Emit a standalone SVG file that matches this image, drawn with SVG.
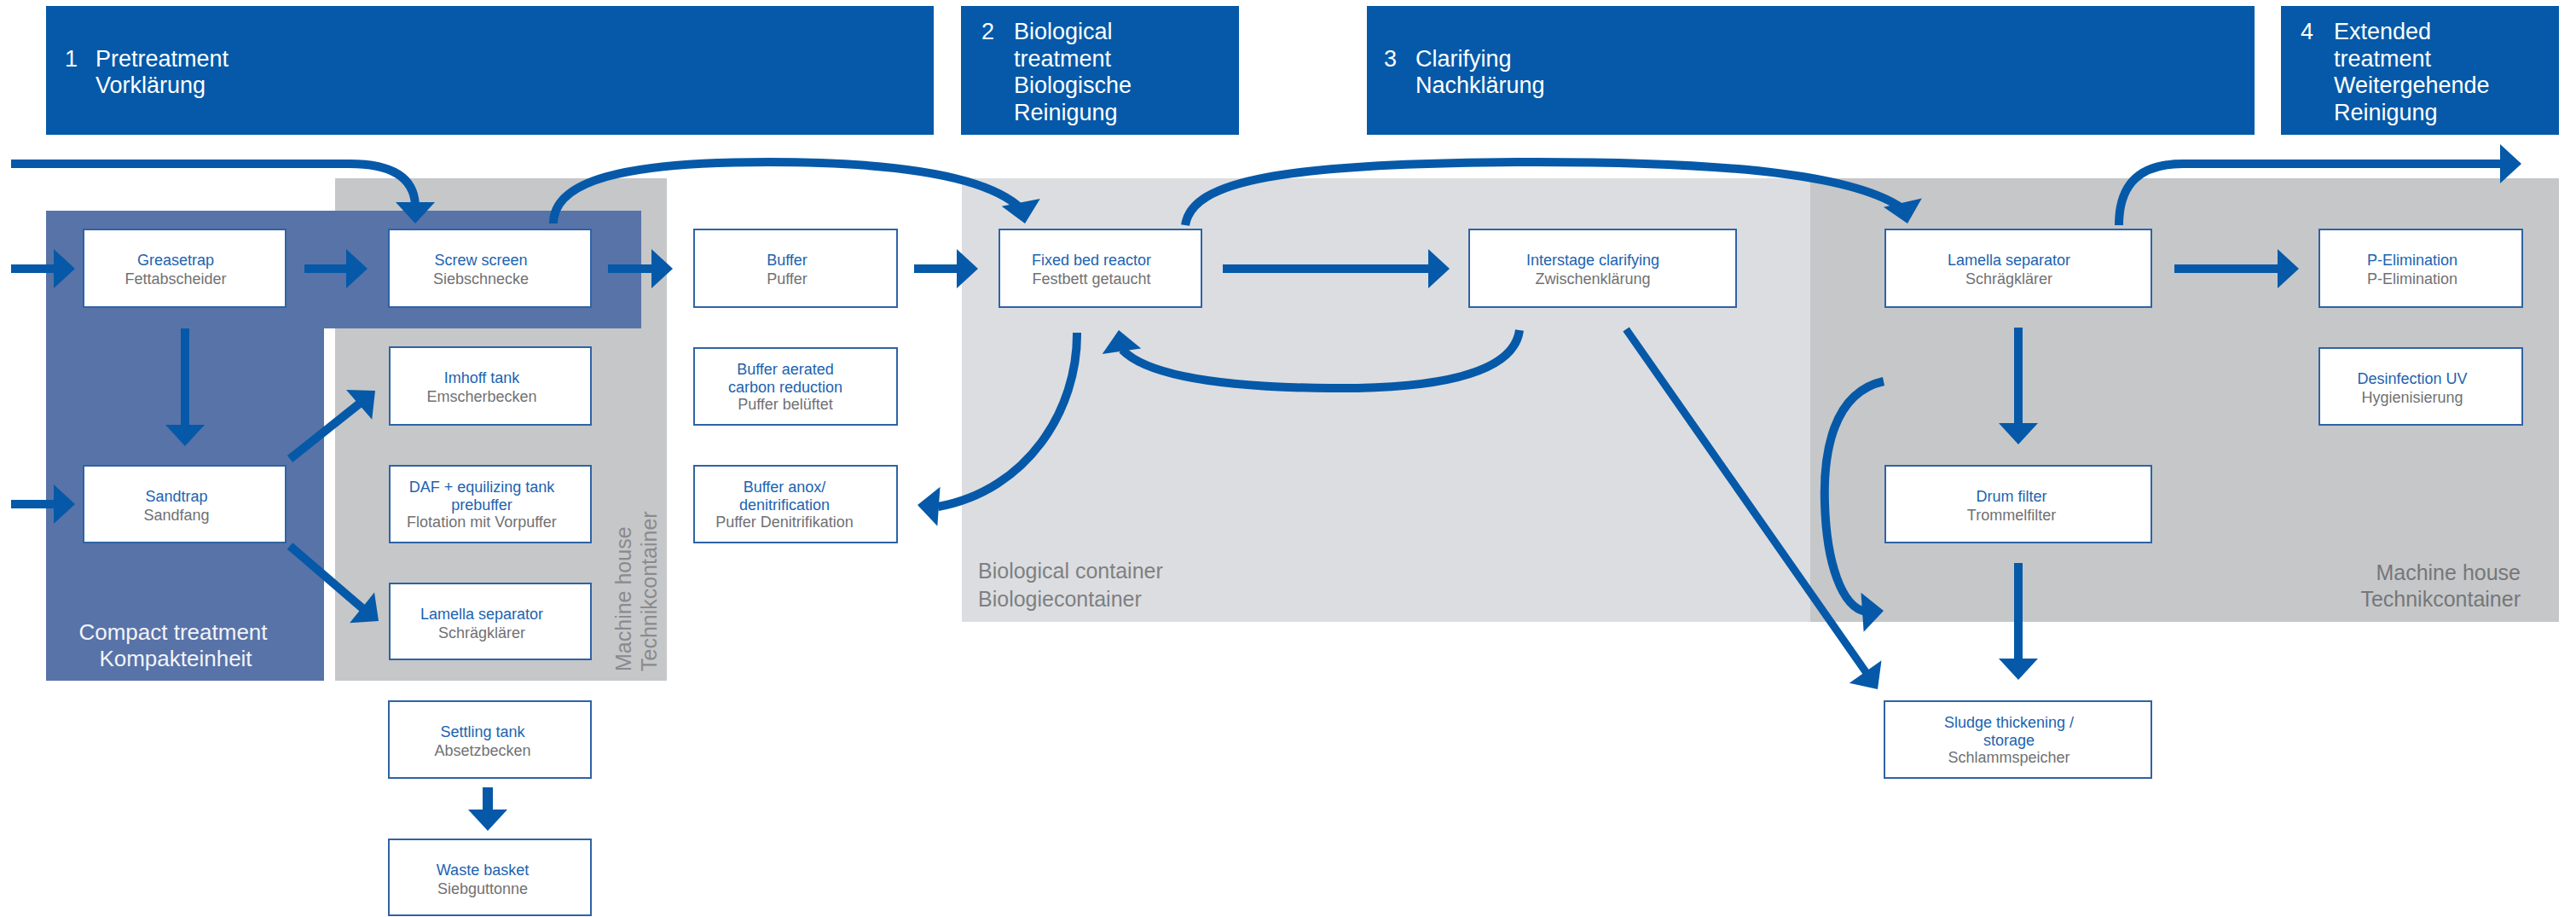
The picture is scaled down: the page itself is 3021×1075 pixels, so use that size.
<svg xmlns="http://www.w3.org/2000/svg" xmlns:xlink="http://www.w3.org/1999/xlink" width="3021" height="1075" viewBox="0 0 3021 1075">
  <style>
    text { font-family: "Liberation Sans", Arial, sans-serif; }
    .hdr { fill: #0559a8; }
    .htxt { fill: #ffffff; font-size: 27px; }
    .box { fill: #ffffff; stroke: #2f63a4; stroke-width: 2; }
    .nt { font-size: 18px; text-anchor: middle; }
    .t1 { fill: #1c63b0; }
    .t2 { fill: #707174; }
    .lbl { font-size: 25px; fill: #7e8083; }
    .flow { fill: none; stroke: #0559a8; stroke-width: 10; }
  </style>
  <defs>
    <!-- arrowhead, tip at origin, pointing down (+y) -->
    <path id="ah" d="M0,0 L-23,-25 L23,-25 Z" fill="#0559a8"/>
  </defs>

  <!-- stage headers -->
  <g id="headers">
    <rect class="hdr" x="54" y="7" width="1041" height="151"/>
    <text class="htxt"><tspan x="76" y="78">1</tspan><tspan x="112" y="78">Pretreatment</tspan><tspan x="112" y="109">Vorklärung</tspan></text>
    <rect class="hdr" x="1127" y="7" width="326" height="151"/>
    <text class="htxt"><tspan x="1151" y="46">2</tspan><tspan x="1189" y="46">Biological</tspan><tspan x="1189" y="77.5">treatment</tspan><tspan x="1189" y="109">Biologische</tspan><tspan x="1189" y="140.5">Reinigung</tspan></text>
    <rect class="hdr" x="1603" y="7" width="1041" height="151"/>
    <text class="htxt"><tspan x="1623" y="78">3</tspan><tspan x="1660" y="78">Clarifying</tspan><tspan x="1660" y="109">Nachklärung</tspan></text>
    <rect class="hdr" x="2675" y="7" width="326" height="151"/>
    <text class="htxt"><tspan x="2698" y="46">4</tspan><tspan x="2737" y="46">Extended</tspan><tspan x="2737" y="77.5">treatment</tspan><tspan x="2737" y="109">Weitergehende</tspan><tspan x="2737" y="140.5">Reinigung</tspan></text>
  </g>

  <!-- containers -->
  <g id="containers">
    <rect id="machine-house-1" x="393" y="209" width="389" height="589" fill="#c6c7c9"/>
    <text class="lbl" fill="#898b8e" transform="translate(740,787) rotate(-90)" style="fill:#898b8e">Machine house</text>
    <text class="lbl" transform="translate(770,787) rotate(-90)" style="fill:#898b8e">Technikcontainer</text>
    <path id="compact-unit" d="M54,247 H752 V385 H380 V798 H54 Z" fill="#5873a8"/>
    <text font-size="26" fill="#f2f4f8" text-anchor="middle"><tspan x="203" y="750">Compact treatment</tspan><tspan x="206" y="781">Kompakteinheit</tspan></text>
    <rect id="bio-container" x="1128" y="209" width="995" height="520" fill="#dcdde0"/>
    <text class="lbl"><tspan x="1147" y="678">Biological container</tspan><tspan x="1147" y="711">Biologiecontainer</tspan></text>
    <rect id="machine-house-2" x="2123" y="209" width="878" height="520" fill="#c6c7c9"/>
    <text class="lbl" text-anchor="end" style="fill:#75777a"><tspan x="2956" y="680">Machine house</tspan><tspan x="2956" y="711">Technikcontainer</tspan></text>
  </g>

  <!-- process units -->
  <g id="greasetrap"><rect class="box" x="98" y="269" width="237" height="91"/>
    <text class="nt"><tspan class="t1" x="206" y="311">Greasetrap</tspan><tspan class="t2" x="206" y="333">Fettabscheider</tspan></text></g>
  <g id="screw-screen"><rect class="box" x="456" y="269" width="237" height="91"/>
    <text class="nt"><tspan class="t1" x="564" y="311">Screw screen</tspan><tspan class="t2" x="564" y="333">Siebschnecke</tspan></text></g>
  <g id="buffer"><rect class="box" x="814" y="269" width="238" height="91"/>
    <text class="nt"><tspan class="t1" x="923" y="311">Buffer</tspan><tspan class="t2" x="923" y="333">Puffer</tspan></text></g>
  <g id="fixed-bed-reactor"><rect class="box" x="1172" y="269" width="237" height="91"/>
    <text class="nt"><tspan class="t1" x="1280" y="311">Fixed bed reactor</tspan><tspan class="t2" x="1280" y="333">Festbett getaucht</tspan></text></g>
  <g id="interstage-clarifying"><rect class="box" x="1723" y="269" width="313" height="91"/>
    <text class="nt"><tspan class="t1" x="1868" y="311">Interstage clarifying</tspan><tspan class="t2" x="1868" y="333">Zwischenklärung</tspan></text></g>
  <g id="lamella-separator-2"><rect class="box" x="2211" y="269" width="312" height="91"/>
    <text class="nt"><tspan class="t1" x="2356" y="311">Lamella separator</tspan><tspan class="t2" x="2356" y="333">Schrägklärer</tspan></text></g>
  <g id="p-elimination"><rect class="box" x="2720" y="269" width="238" height="91"/>
    <text class="nt"><tspan class="t1" x="2829" y="311">P-Elimination</tspan><tspan class="t2" x="2829" y="333">P-Elimination</tspan></text></g>
  <g id="imhoff-tank"><rect class="box" x="457" y="407" width="236" height="91"/>
    <text class="nt"><tspan class="t1" x="565" y="449">Imhoff tank</tspan><tspan class="t2" x="565" y="471">Emscherbecken</tspan></text></g>
  <g id="buffer-aerated"><rect class="box" x="814" y="408" width="238" height="90"/>
    <text class="nt"><tspan class="t1" x="921" y="439">Buffer aerated</tspan><tspan class="t1" x="921" y="460">carbon reduction</tspan><tspan class="t2" x="921" y="480">Puffer belüftet</tspan></text></g>
  <g id="desinfection-uv"><rect class="box" x="2720" y="408" width="238" height="90"/>
    <text class="nt"><tspan class="t1" x="2829" y="450">Desinfection UV</tspan><tspan class="t2" x="2829" y="472">Hygienisierung</tspan></text></g>
  <g id="sandtrap"><rect class="box" x="98" y="546" width="237" height="90"/>
    <text class="nt"><tspan class="t1" x="207" y="588">Sandtrap</tspan><tspan class="t2" x="207" y="610">Sandfang</tspan></text></g>
  <g id="daf"><rect class="box" x="457" y="546" width="236" height="90"/>
    <text class="nt"><tspan class="t1" x="565" y="577">DAF + equilizing tank</tspan><tspan class="t1" x="565" y="598">prebuffer</tspan><tspan class="t2" x="565" y="618">Flotation mit Vorpuffer</tspan></text></g>
  <g id="buffer-anox"><rect class="box" x="814" y="546" width="238" height="90"/>
    <text class="nt"><tspan class="t1" x="920" y="577">Buffer anox/</tspan><tspan class="t1" x="920" y="598">denitrification</tspan><tspan class="t2" x="920" y="618">Puffer Denitrifikation</tspan></text></g>
  <g id="drum-filter"><rect class="box" x="2211" y="546" width="312" height="90"/>
    <text class="nt"><tspan class="t1" x="2359" y="588">Drum filter</tspan><tspan class="t2" x="2359" y="610">Trommelfilter</tspan></text></g>
  <g id="lamella-separator-1"><rect class="box" x="457" y="684" width="236" height="89"/>
    <text class="nt"><tspan class="t1" x="565" y="726">Lamella separator</tspan><tspan class="t2" x="565" y="748">Schrägklärer</tspan></text></g>
  <g id="settling-tank"><rect class="box" x="456" y="822" width="237" height="90"/>
    <text class="nt"><tspan class="t1" x="566" y="864">Settling tank</tspan><tspan class="t2" x="566" y="886">Absetzbecken</tspan></text></g>
  <g id="sludge-storage"><rect class="box" x="2210" y="822" width="313" height="90"/>
    <text class="nt"><tspan class="t1" x="2356" y="853">Sludge thickening /</tspan><tspan class="t1" x="2356" y="874">storage</tspan><tspan class="t2" x="2356" y="894">Schlammspeicher</tspan></text></g>
  <g id="waste-basket"><rect class="box" x="456" y="984" width="237" height="89"/>
    <text class="nt"><tspan class="t1" x="566" y="1026">Waste basket</tspan><tspan class="t2" x="566" y="1048">Siebguttonne</tspan></text></g>

  <!-- flows -->
  <g id="connectors">
    <path class="flow" d="M13,192 H410 C455,192 485,205 487,240"/>
    <use href="#ah" transform="translate(487,262)"/>
    <path class="flow" d="M13,315 H65"/>
    <use href="#ah" transform="translate(88,315) rotate(-90)"/>
    <path class="flow" d="M357,315 H408"/>
    <use href="#ah" transform="translate(431,315) rotate(-90)"/>
    <path class="flow" d="M713,315 H766"/>
    <use href="#ah" transform="translate(789,315) rotate(-90)"/>
    <path class="flow" d="M1072,315 H1124"/>
    <use href="#ah" transform="translate(1147,315) rotate(-90)"/>
    <path class="flow" d="M1434,315 H1677"/>
    <use href="#ah" transform="translate(1700,315) rotate(-90)"/>
    <path class="flow" d="M2550,315 H2673"/>
    <use href="#ah" transform="translate(2696,315) rotate(-90)"/>
    <path class="flow" d="M13,591 H65"/>
    <use href="#ah" transform="translate(88,591) rotate(-90)"/>
    <path class="flow" d="M217,385 V500"/>
    <use href="#ah" transform="translate(217,523)"/>
    <path class="flow" d="M340,538 L423,472"/>
    <use href="#ah" transform="translate(440,458) rotate(-131)"/>
    <path class="flow" d="M340,640 L425,713"/>
    <use href="#ah" transform="translate(444,728) rotate(-51)"/>
    <path class="flow" style="stroke-width:12" d="M572,923 V951"/>
    <use href="#ah" transform="translate(572,974)"/>
    <path class="flow" d="M649,262 C649,212 730,190 900,190 C1060,190 1160,208 1198,245"/>
    <use href="#ah" transform="translate(1202,262) rotate(-11)"/>
    <path class="flow" d="M1390,264 C1398,212 1500,191 1800,190 C2050,190 2180,208 2232,245"/>
    <use href="#ah" transform="translate(2237,262) rotate(-13)"/>
    <path class="flow" d="M2485,264 C2485,215 2510,192 2560,192 H2934"/>
    <use href="#ah" transform="translate(2957,192) rotate(-90)"/>
    <path class="flow" d="M1782,387 C1775,440 1680,456 1560,455 C1430,454 1345,440 1316,410"/>
    <use href="#ah" transform="translate(1312,387) rotate(172)"/>
    <path class="flow" d="M1263,390 C1264,480 1205,575 1100,594"/>
    <use href="#ah" transform="translate(1076,592) rotate(94)"/>
    <path class="flow" style="stroke-width:9" d="M1907,386 L2189,789"/>
    <use href="#ah" transform="translate(2202,808) rotate(-35)"/>
    <path class="flow" d="M2209,447 C2150,460 2138,530 2140,590 C2142,660 2160,712 2188,717"/>
    <use href="#ah" transform="translate(2209,716) rotate(-94)"/>
    <path class="flow" d="M2367,384 V498"/>
    <use href="#ah" transform="translate(2367,521)"/>
    <path class="flow" d="M2367,660 V774"/>
    <use href="#ah" transform="translate(2367,797)"/>
  </g>
</svg>
